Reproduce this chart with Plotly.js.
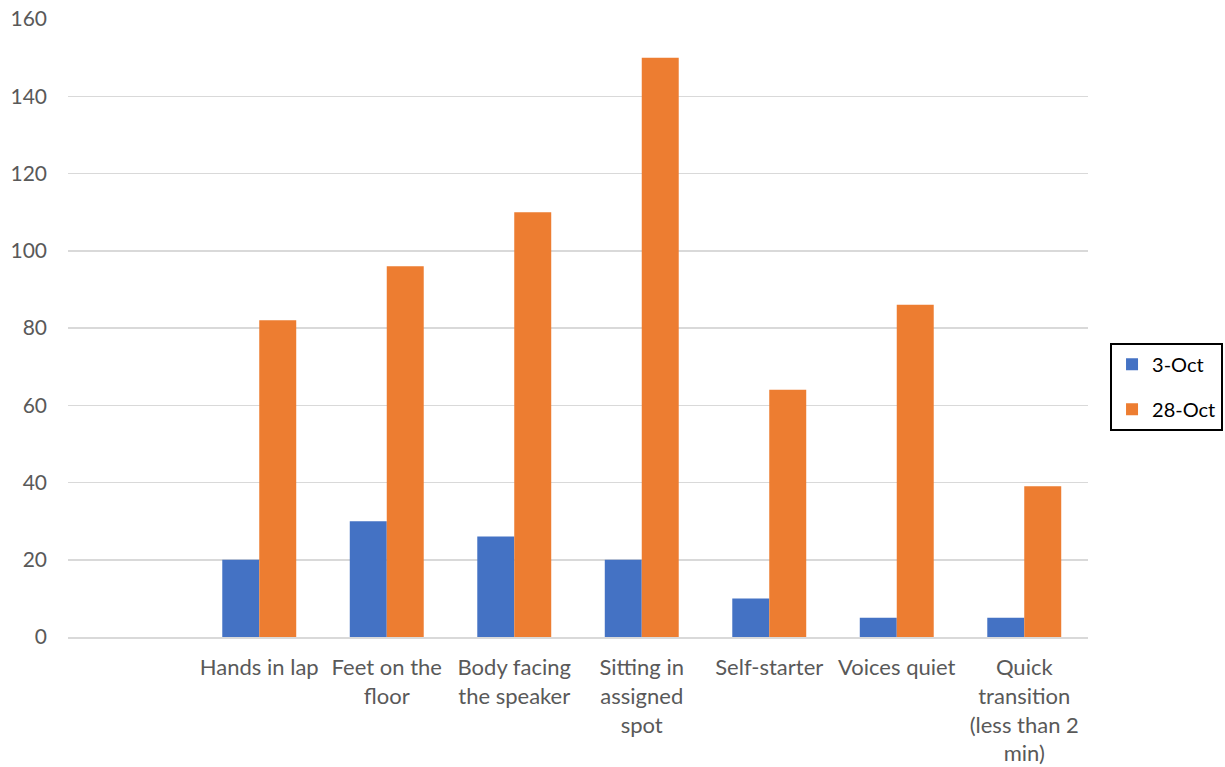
<!DOCTYPE html>
<html>
<head>
<meta charset="utf-8">
<script src="https://cdn.plot.ly/plotly-3.0.1.min.js"></script>
<style>
  html, body { margin: 0; padding: 0; background: #fff; }
  #chart { width: 1225px; height: 767px; }
</style>
</head>
<body>
<div id="chart"></div>
<script>
// Classroom behaviour counts on two observation dates
const categories = [
  " ",
  "Hands in lap",
  "Feet on the<br>floor",
  "Body facing<br>the speaker",
  "Sitting in<br>assigned<br>spot",
  "Self-starter",
  "Voices quiet",
  "Quick<br>transition<br>(less than 2<br>min)"
];
const seriesNames = ["3-Oct", "28-Oct"];
const oct3Values = [null, 20, 30, 26, 20, 10, 5, 5];
const oct28Values = [null, 82, 96, 110, 150, 64, 86, 39];
const yTickValues = [0, 20, 40, 60, 80, 100, 120, 140, 160];

const fontFamily = "Lato, 'Open Sans', 'Liberation Sans', sans-serif";
const textColor = "#595959";
const gridColor = "#d9d9d9";

const traces = [
  {
    type: "bar",
    name: seriesNames[0],
    x: categories,
    y: oct3Values,
    marker: { color: "#4472C4", line: { width: 0 } },
    legendgroup: "a",
    hoverinfo: "x+y+name"
  },
  {
    type: "bar",
    name: seriesNames[1],
    x: categories,
    y: oct28Values,
    marker: { color: "#ED7D31", line: { width: 0 } },
    legendgroup: "b",
    hoverinfo: "x+y+name"
  }
];

const layout = {
  width: 1225,
  height: 767,
  margin: { l: 68, r: 137, t: 19, b: 130, autoexpand: false },
  paper_bgcolor: "#ffffff",
  plot_bgcolor: "#ffffff",
  font: { family: fontFamily, size: 21, color: textColor },
  barmode: "group",
  bargap: 0.42,
  bargroupgap: 0,
  showlegend: true,
  legend: {
    x: 1.0216,
    xanchor: "left",
    y: 0.405,
    yanchor: "middle",
    bordercolor: "#000000",
    borderwidth: 2,
    bgcolor: "#ffffff",
    font: { family: fontFamily, size: 20, color: "#000000" },
    traceorder: "grouped",
    tracegroupgap: 16,
    itemwidth: 30
  },
  xaxis: {
    type: "category",
    showgrid: false,
    showline: true,
    linecolor: gridColor,
    linewidth: 2,
    ticks: "",
    tickangle: 0,
    automargin: false,
    ticklabelstandoff: 10,
    tickfont: { family: fontFamily, size: 22, color: textColor },
    fixedrange: true
  },
  yaxis: {
    range: [0, 160],
    tickvals: yTickValues,
    ticktext: yTickValues.map(String),
    showgrid: true,
    gridcolor: gridColor,
    gridwidth: 1.5,
    zeroline: false,
    showline: false,
    ticks: "",
    automargin: false,
    ticklabelstandoff: 20,
    tickfont: { family: fontFamily, size: 21, color: textColor },
    fixedrange: true
  }
};

Plotly.newPlot("chart", traces, layout, { displayModeBar: false, staticPlot: true });
</script>
</body>
</html>
